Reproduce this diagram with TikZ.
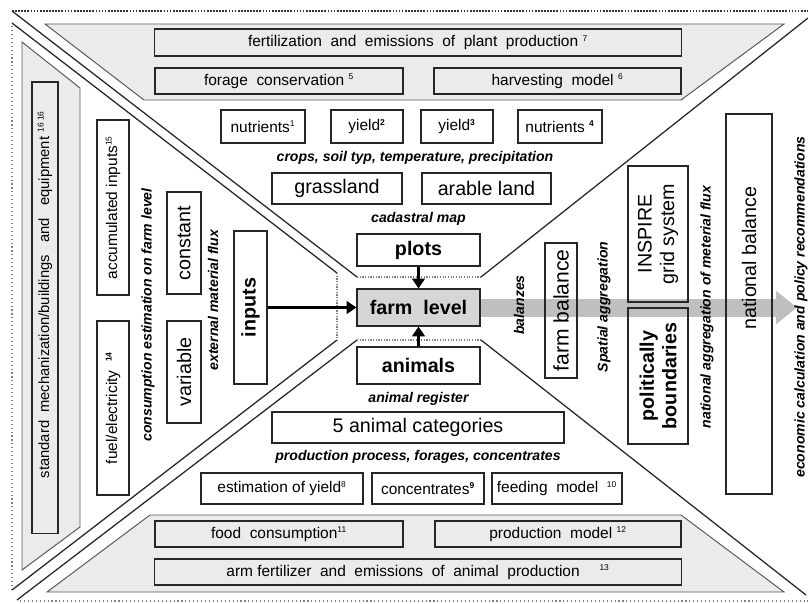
\documentclass[tikz,border=0pt]{standalone}
\usepackage{fontspec}
\setmainfont{Liberation Sans}
\usepackage{tikz}
\usetikzlibrary{arrows.meta,positioning}
\definecolor{panel}{gray}{0.92}
\definecolor{core}{gray}{0.84}
\definecolor{bandgray}{gray}{0.75}
\definecolor{rim}{gray}{0.15}
\newcommand{\nr}[1]{\textsuperscript{\fontsize{6}{6}\selectfont #1}}
\newcommand{\nrb}[1]{\textsuperscript{\fontsize{6}{6}\selectfont\bfseries #1}}

\begin{document}
\begin{tikzpicture}[
  x=0.025cm, y=-0.025cm,
  font=\fontsize{11}{13}\selectfont,
  box/.style={draw=rim, thick, inner sep=0pt, align=center},
  graybox/.style={box, fill=panel, minimum height=6.5mm},
  big/.style={font=\fontsize{14}{16}\selectfont},
  bigbold/.style={font=\fontsize{14}{16}\selectfont\bfseries},
  note/.style={font=\fontsize{10}{12}\selectfont\bfseries\itshape, inner sep=0pt},
  turned/.style={rotate=90},
  zone/.style={draw=rim, line width=0.9pt},
  seam/.style={draw=gray, densely dotted, line width=0.9pt},
  panelshape/.style={fill=panel, draw=black!65, line width=0.7pt},
  flow/.style={-{Triangle[length=7pt,width=9pt]}, line width=2.2pt},
  widearrow/.style={-{Triangle[length=15pt,width=23pt]}, line width=12.8pt, draw=bandgray}
]
\useasboundingbox (0,0) rectangle (808,604);

% frame
\draw[black!80, densely dotted, line width=1.2pt] (12,11) -- (808,11);
\draw[gray, dotted, line width=0.8pt] (12,26) -- (12,590);
\draw[gray, dotted, line width=0.8pt] (20,601) -- (808,601);

% gray panels
\path[panelshape] (45,24) -- (784,24) -- (681,100) -- (144,100) -- cycle;
\path[panelshape] (22,42) -- (80,88) -- (80,527) -- (22,570) -- cycle;
\path[panelshape] (150,515) -- (681,515) -- (784,592) -- (47,592) -- cycle;

% four zones
\draw[zone] (12,11) -- (357,277);
\draw[seam] (357,277) -- (481,277);
\draw[zone] (481,277) -- (808,18);
\draw[zone] (12,23) -- (337,273);
\draw[seam] (337,273) -- (337,340);
\draw[zone] (337,340) -- (12,590);
\draw[zone] (17,600) -- (357,340);
\draw[seam] (357,340) -- (481,340);
\draw[zone] (481,340) -- (806,595);

% centre
\node[box, bigbold, fill=core, minimum width=3.075cm, minimum height=9.25mm] (farm) at (418.5,307.5) {farm\ \ level};
\coordinate (bandend) at (797,307.5);
\draw[widearrow] (farm.east) -- (bandend);

% plant production
\node[graybox, minimum width=13.15cm, minimum height=6.75mm] (plantem) at (418,42.5) {fertilization\ \ and\ \ emissions\ \ of\ \ plant\ \ production \nr{7}};
\node[graybox, minimum width=6.2cm] (forage) at (279,81) {forage\ \ conservation \nr{5}};
\node[graybox, minimum width=6.175cm] (harvest) at (557.5,81) {harvesting\ \ model \nr{6}};
\node[box, minimum width=2.1cm, minimum height=8.25mm] (nutrA) at (263,126.5) {nutrients\nr{1}};
\node[box, minimum width=1.8cm, minimum height=8.25mm] (yieldA) at (367,126.5) {yield\nrb{2}};
\node[box, minimum width=1.8cm, minimum height=8.25mm] (yieldB) at (457,126.5) {yield\nrb{3}};
\node[box, minimum width=2.1cm, minimum height=8.25mm] (nutrB) at (560,126.5) {nutrients \nrb{4}};
\node[note] (crops) at (415,158) {crops, soil typ, temperature, precipitation};
\node[box, big, minimum width=3.25cm, minimum height=7.75mm] (grass) at (337,188.5) {grassland};
\node[box, big, minimum width=3.225cm, minimum height=7.75mm] (arable) at (486.5,188.5) {arable land};
\node[box, bigbold, minimum width=3.075cm, minimum height=8mm] (plots) at (418.5,250) {plots};
\node[note, above=2mm of plots] (cadastral) {cadastral map};

% animal production
\node[box, bigbold, minimum width=3.075cm, minimum height=9.25mm] (animals) at (418.5,365.5) {animals};
\node[note, below=1.8mm of animals] (register) {animal register};
\node[box, big, minimum width=7.3cm, minimum height=7.75mm] (cats) at (418,427.5) {5 animal categories};
\node[note] (process) at (418,457) {production process, forages, concentrates};
\node[box, minimum width=4.05cm, minimum height=7.75mm] (estim) at (282,488.5) {estimation of yield\nr{8}};
\node[box, minimum width=2.8cm, minimum height=7.75mm] (conc) at (428,488.5) {concentrates\nrb{9}};
\node[box, minimum width=3.25cm, minimum height=7.75mm] (feeding) at (557,488.5) {feeding\ \ model\ \ \nr{10}};
\node[graybox, minimum width=6.2cm] (food) at (279,534) {food\ \ consumption\nr{11}};
\node[graybox, minimum width=6.15cm] (prodmod) at (558,534) {production\ \ model \nr{12}};
\node[graybox, minimum width=13.15cm] (animfert) at (418,572) {arm fertilizer\ \ and\ \ emissions\ \ of\ \ animal\ \ production\quad\ \nr{13}};

% inputs
\node[graybox, turned, minimum width=11.275cm, font=\fontsize{10.5}{12}\selectfont] (mech) at (45,307.5) {\hspace*{0.65cm}standard\ \ mechanization/buildings\ \ \ and\ \ \ equipment \nr{16 16}};
\node[box, turned, minimum width=4.375cm, minimum height=8mm] (accum) at (113,207.5) {accumulated inputs\nr{15}};
\node[box, turned, minimum width=4.35cm, minimum height=8mm] (fuel) at (113,408) {fuel/electricity\ \ \nrb{14}};
\node[note, turned] (consum) at (148,315) {consumption estimation on farm level};
\node[box, big, turned, minimum width=2.55cm, minimum height=8.5mm] (constant) at (184,243) {constant};
\node[box, big, turned, minimum width=2.55cm, minimum height=8.5mm] (variable) at (184,372) {variable};
\node[note, turned] (extflux) at (213,300) {external material flux};
\node[box, bigbold, turned, minimum width=3.825cm, minimum height=8.25mm] (inputs) at (250.5,307.5) {inputs};

% aggregation
\node[note, turned] (balanzes) at (519,305) {balanzes};
\node[box, turned, minimum width=3.375cm, minimum height=8mm, font=\fontsize{15}{17}\selectfont] (farmbal) at (561,310.5) {farm balance};
\node[note, turned] (spatial) at (604,307) {Spatial aggregation};
\node[box, big, turned, minimum width=3.4cm, minimum height=1.5cm] (inspire) at (658,234) {INSPIRE\\grid system};
\node[box, bigbold, turned, minimum width=3.4cm, minimum height=1.5cm] (borders) at (658,376) {politically\\boundaries};
\node[note, turned] (natflux) at (707,307) {national aggregation of meterial flux};
\node[box, big, turned, minimum width=9.5cm, minimum height=1.15cm] (natbal) at (749,304) {\hspace*{2.3cm}national balance};
\node[note, turned] (econ) at (801,307) {economic calculation and policy recommendations};

\draw[flow] (plots) -- (farm);
\draw[flow] (animals) -- (farm);
\draw[flow, line width=2.8pt] (inputs) -- (farm);
\end{tikzpicture}
\end{document}
